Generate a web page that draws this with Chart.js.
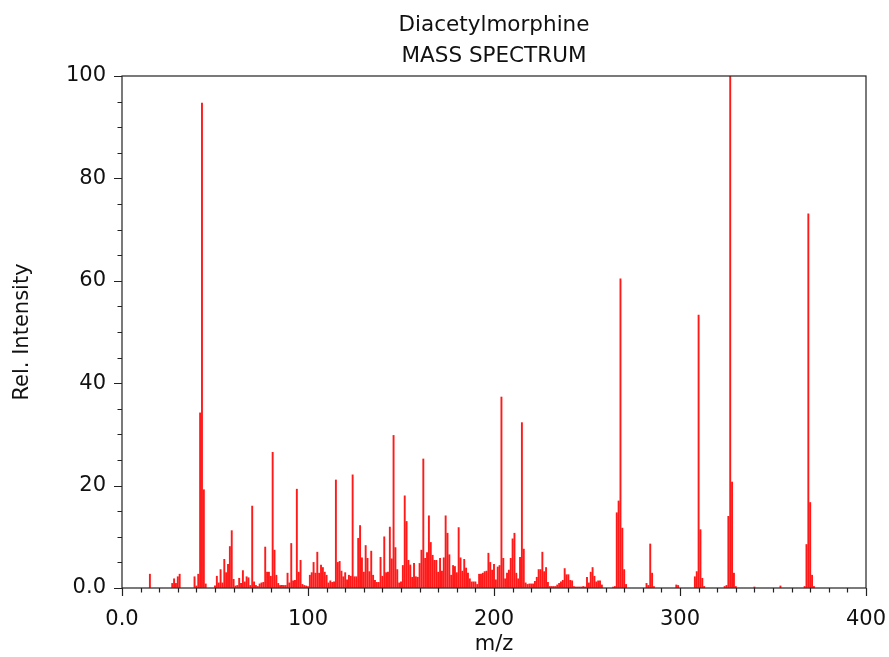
<!DOCTYPE html>
<html lang="en">

<head>
    <meta charset="UTF-8">
    <title>Diacetylmorphine Mass Spectrum</title>
    <script src="https://cdn.jsdelivr.net/npm/chart.js"></script>
    <style>
        html, body { margin: 0; padding: 0; background: #fff; }
        #wrap { width: 889px; height: 657px; }
    </style>
</head>

<body>
    <div id="wrap"><canvas id="spectrum"></canvas></div>

    <script>
        var titleLines = ['Diacetylmorphine', 'MASS SPECTRUM'];
        var xTickLabels = ['0.0', '100', '200', '300', '400'];
        var yTickLabels = ['0.0', '20', '40', '60', '80', '100'];

        // m/z values and relative intensities
        var mz = [
            15, 27, 28, 29, 30, 31, 39, 40, 41, 42, 43, 44, 45, 50, 51, 52, 53, 54, 55, 56,
            57, 58, 59, 60, 61, 62, 63, 64, 65, 66, 67, 68, 69, 70, 71, 72, 73, 74, 75, 76,
            77, 78, 79, 80, 81, 82, 83, 84, 85, 86, 87, 88, 89, 90, 91, 92, 93, 94, 95, 96,
            97, 98, 99, 100, 101, 102, 103, 104, 105, 106, 107, 108, 109, 110, 111, 112, 113, 114, 115, 116,
            117, 118, 119, 120, 121, 122, 123, 124, 125, 126, 127, 128, 129, 130, 131, 132, 133, 134, 135, 136,
            137, 138, 139, 140, 141, 142, 143, 144, 145, 146, 147, 148, 149, 150, 151, 152, 153, 154, 155, 156,
            157, 158, 159, 160, 161, 162, 163, 164, 165, 166, 167, 168, 169, 170, 171, 172, 173, 174, 175, 176,
            177, 178, 179, 180, 181, 182, 183, 184, 185, 186, 187, 188, 189, 190, 191, 192, 193, 194, 195, 196,
            197, 198, 199, 200, 201, 202, 203, 204, 205, 206, 207, 208, 209, 210, 211, 212, 213, 214, 215, 216,
            217, 218, 219, 220, 221, 222, 223, 224, 225, 226, 227, 228, 229, 230, 231, 232, 233, 234, 235, 236,
            237, 238, 239, 240, 241, 242, 243, 244, 245, 246, 247, 248, 249, 250, 251, 252, 253, 254, 255, 256,
            257, 258, 264, 265, 266, 267, 268, 269, 270, 271, 282, 283, 284, 285, 286, 298, 299, 308, 309, 310,
            311, 312, 313, 324, 325, 326, 327, 328, 329, 330, 340, 354, 367, 368, 369, 370, 371, 372
        ];
        var intensity = [
            2.7, 0.9, 1.8, 0.9, 2.2, 2.7, 2.2, 0.4, 2.7, 34.2, 94.7, 19.2, 0.8, 0.4, 2.3, 1.0, 3.6, 1.0, 5.6, 3.0,
            4.6, 8.1, 11.2, 1.7, 0.4, 0.5, 1.9, 0.9, 3.4, 1.2, 2.2, 2.0, 0.5, 16.0, 1.2, 0.5, 0.3, 0.8, 1.0, 1.1,
            8.0, 3.1, 3.1, 2.3, 26.5, 7.4, 2.5, 0.9, 0.5, 0.5, 0.5, 0.5, 2.9, 1.0, 8.7, 1.4, 1.5, 19.3, 3.1, 5.4,
            0.7, 0.5, 0.4, 0.3, 2.5, 3.0, 5.0, 2.9, 7.0, 2.9, 4.5, 4.0, 3.1, 2.5, 1.0, 1.4, 1.1, 1.2, 21.1, 5.0,
            5.2, 3.3, 2.2, 3.0, 1.6, 2.5, 2.3, 22.1, 2.2, 2.2, 9.7, 12.2, 5.9, 3.1, 8.3, 5.8, 3.2, 7.2, 2.5, 1.5,
            1.1, 1.1, 6.0, 2.3, 10.0, 3.0, 3.1, 11.9, 5.7, 29.8, 7.9, 3.6, 1.0, 1.2, 4.4, 18.0, 13.0, 5.4, 4.5, 2.1,
            4.8, 2.2, 2.1, 4.8, 7.4, 25.2, 5.8, 6.9, 14.1, 8.9, 6.4, 5.4, 5.4, 3.1, 5.8, 3.3, 5.9, 14.1, 10.7, 6.5,
            2.5, 4.4, 4.2, 3.0, 11.8, 5.9, 3.3, 5.6, 3.9, 2.9, 1.8, 1.2, 1.2, 1.2, 0.7, 2.7, 2.7, 2.9, 3.2, 3.3,
            6.8, 5.0, 3.5, 4.6, 1.6, 4.1, 4.4, 37.3, 5.8, 1.8, 2.9, 3.5, 5.8, 9.6, 10.7, 2.9, 1.8, 6.0, 32.3, 7.6,
            1.0, 0.7, 0.8, 0.8, 0.8, 1.3, 2.1, 3.6, 3.6, 7.0, 3.2, 4.0, 1.1, 0.3, 0.3, 0.3, 0.3, 0.6, 0.9, 1.2,
            1.5, 3.8, 2.6, 2.6, 1.5, 1.4, 0.3, 0.2, 0.2, 0.2, 0.2, 0.3, 0.2, 2.1, 1.0, 3.1, 4.0, 2.3, 1.2, 1.4,
            1.4, 0.6, 0.2, 0.3, 14.7, 17.0, 60.4, 11.7, 3.6, 0.7, 0.9, 0.5, 8.6, 2.9, 0.3, 0.6, 0.5, 2.2, 3.2, 53.3,
            11.4, 1.9, 0.3, 0.3, 0.5, 14.0, 100, 20.7, 2.9, 0.3, 0.2, 0.4, 0.3, 8.5, 73.1, 16.7, 2.5, 0.3
        ];

        var fontFamily = '"DejaVu Sans", sans-serif';

        // frame around the plot plus outward major/minor ticks
        var frameAndTicks = {
            id: 'frameAndTicks',
            afterDraw: function (chart) {
                var ctx = chart.ctx;
                var a = chart.chartArea;
                var xs = chart.scales.x;
                var ys = chart.scales.y;
                ctx.save();
                ctx.strokeStyle = '#222';
                ctx.lineWidth = 1.2;
                ctx.strokeRect(a.left, a.top, a.right - a.left, a.bottom - a.top);
                ctx.beginPath();
                for (var v = 0; v <= 400; v += 10) {
                    var px = Math.round(xs.getPixelForValue(v)) + 0.5;
                    var len = v % 100 === 0 ? 8 : 4.5;
                    ctx.moveTo(px, a.bottom);
                    ctx.lineTo(px, a.bottom + len);
                }
                for (var w = 0; w <= 100; w += 5) {
                    var py = Math.round(ys.getPixelForValue(w)) + 0.5;
                    var l2 = w % 20 === 0 ? 8 : 4.5;
                    ctx.moveTo(a.left, py);
                    ctx.lineTo(a.left - l2, py);
                }
                ctx.stroke();
                ctx.restore();
            }
        };

        var points = mz.map(function (m, i) { return { x: m, y: intensity[i] }; });

        var chart = new Chart(document.getElementById('spectrum'), {
            type: 'bar',
            data: {
                datasets: [{
                    data: points,
                    backgroundColor: 'rgba(255, 0, 0, 0.9)',
                    borderWidth: 0,
                    barThickness: 1.25
                }]
            },
            options: {
                responsive: true,
                maintainAspectRatio: false,
                animation: false,
                layout: { padding: { left: 0, right: 23, top: 0, bottom: 0 } },
                plugins: {
                    legend: { display: false },
                    tooltip: { enabled: false },
                    title: {
                        display: true,
                        fullSize: false,
                        text: titleLines,
                        color: '#111',
                        font: { family: fontFamily, size: 21.5, weight: 'normal', lineHeight: '31px' },
                        padding: { top: 10, bottom: 4 }
                    }
                },
                scales: {
                    x: {
                        type: 'linear',
                        min: 0,
                        max: 400,
                        offset: false,
                        grid: { display: true, drawOnChartArea: false, offset: false, tickLength: 8, tickColor: 'rgba(0,0,0,0)' },
                        border: { display: false },
                        ticks: {
                            stepSize: 100,
                            padding: 11,
                            maxRotation: 0,
                            color: '#111',
                            font: { family: fontFamily, size: 21 },
                            callback: function (value, index) { return xTickLabels[index]; }
                        },
                        title: {
                            display: true,
                            text: 'm/z',
                            color: '#111',
                            font: { family: fontFamily, size: 21, lineHeight: '24px' },
                            padding: { top: 0, bottom: 0 }
                        },
                        afterFit: function (scale) {
                            scale.height = 69;
                            scale.paddingLeft = 0;
                            scale.paddingRight = 0;
                        }
                    },
                    y: {
                        min: 0,
                        max: 100,
                        grid: { display: true, drawOnChartArea: false, tickLength: 8, tickColor: 'rgba(0,0,0,0)' },
                        border: { display: false },
                        ticks: {
                            stepSize: 20,
                            padding: 8,
                            color: '#111',
                            font: { family: fontFamily, size: 21 },
                            callback: function (value, index) { return yTickLabels[index]; }
                        },
                        title: {
                            display: true,
                            text: 'Rel. Intensity',
                            color: '#111',
                            font: { family: fontFamily, size: 21, lineHeight: '24px' },
                            padding: { top: 11, bottom: 0 }
                        },
                        afterFit: function (scale) { scale.width = 122; }
                    }
                }
            },
            plugins: [frameAndTicks]
        });
    </script>
</body>

</html>
